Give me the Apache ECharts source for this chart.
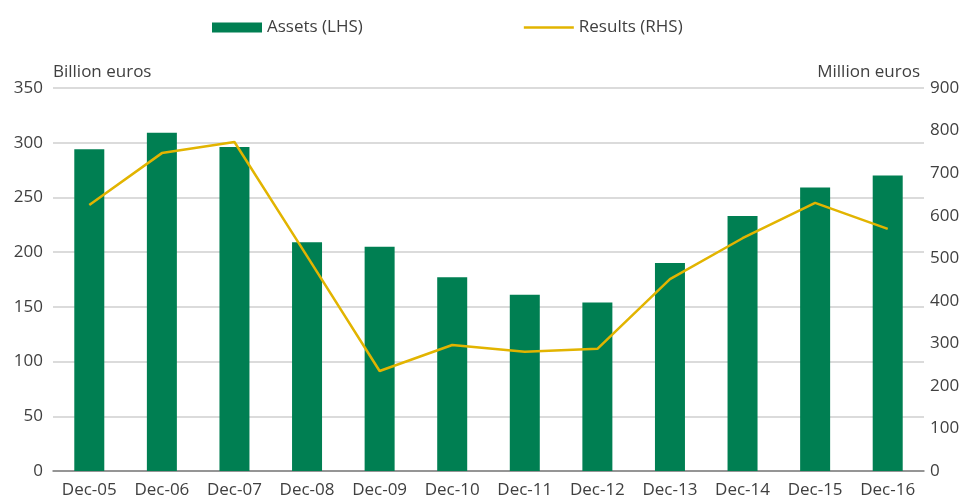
<!DOCTYPE html>
<html>
<head>
    <meta charset="utf-8">
    <title>Assets and results</title>
    <script src="https://cdn.jsdelivr.net/npm/echarts@6/dist/echarts.min.js"></script>
    <style>
        html, body { margin: 0; padding: 0; background: #ffffff; }
        #chart { width: 963px; height: 503px; }
    </style>
</head>
<body>
<div id="chart"></div>
<script>
    var categories = ['Dec-05', 'Dec-06', 'Dec-07', 'Dec-08', 'Dec-09', 'Dec-10',
                      'Dec-11', 'Dec-12', 'Dec-13', 'Dec-14', 'Dec-15', 'Dec-16'];
    // billion euros, left axis
    var assets = [294, 309, 296, 209, 205, 177, 161, 154, 190, 233, 259, 270];
    // million euros, right axis
    var results = [625, 747, 773, 505, 235, 296, 280, 287, 451, 547, 630, 569];

    var leftTicks = { min: 0, max: 350, interval: 50 };
    var rightTicks = { min: 0, max: 900, interval: 100 };

    var font = '"Open Sans", "Noto Sans", sans-serif';
    var textColor = '#404040';

    var chart = echarts.init(document.getElementById('chart'), null, { renderer: 'canvas' });

    var option = {
        animation: false,
        textStyle: { fontFamily: font },
        legend: {
            top: 14,
            left: 207,
            itemGap: 161,
            itemWidth: 50,
            itemHeight: 10,
            symbolKeepAspect: true,
            textStyle: { fontSize: 17, color: textColor, fontFamily: font },
            data: [
                { name: 'Assets (LHS)', icon: 'rect' },
                { name: 'Results (RHS)', icon: 'path://M0,0 L50,0 L50,2.6 L0,2.6 Z' }
            ]
        },
        grid: { left: 53, right: 39, top: 88, bottom: 32, containLabel: false },
        xAxis: {
            type: 'category',
            data: categories,
            axisTick: { show: false },
            axisLine: { lineStyle: { color: '#7f7f7f', width: 1.5 } },
            axisLabel: { fontSize: 17, color: textColor, margin: 11, interval: 0 }
        },
        yAxis: [
            {
                type: 'value',
                min: leftTicks.min,
                max: leftTicks.max,
                interval: leftTicks.interval,
                name: 'Billion euros',
                nameGap: 7,
                nameTextStyle: { fontSize: 17, color: textColor, align: 'left', verticalAlign: 'bottom' },
                axisLine: { show: false },
                axisTick: { show: false },
                axisLabel: { fontSize: 17, color: textColor, margin: 10 },
                splitLine: { lineStyle: { color: '#cfcfcf', width: 1.5 } }
            },
            {
                type: 'value',
                min: rightTicks.min,
                max: rightTicks.max,
                interval: rightTicks.interval,
                name: 'Million euros',
                nameGap: 7,
                nameTextStyle: { fontSize: 17, color: textColor, align: 'right', verticalAlign: 'bottom', padding: [0, 4, 0, 0] },
                axisLine: { show: false },
                axisTick: { show: false },
                axisLabel: { fontSize: 17, color: textColor, margin: 6 },
                splitLine: { show: false }
            }
        ],
        series: [
            {
                name: 'Assets (LHS)',
                type: 'bar',
                yAxisIndex: 0,
                data: assets,
                barWidth: 30,
                itemStyle: { color: '#007f52' }
            },
            {
                name: 'Results (RHS)',
                type: 'line',
                yAxisIndex: 1,
                data: results,
                symbol: 'none',
                lineStyle: { color: '#e2b400', width: 2.5 },
                itemStyle: { color: '#e2b400' }
            }
        ]
    };

    chart.setOption(option);
</script>
</body>
</html>
